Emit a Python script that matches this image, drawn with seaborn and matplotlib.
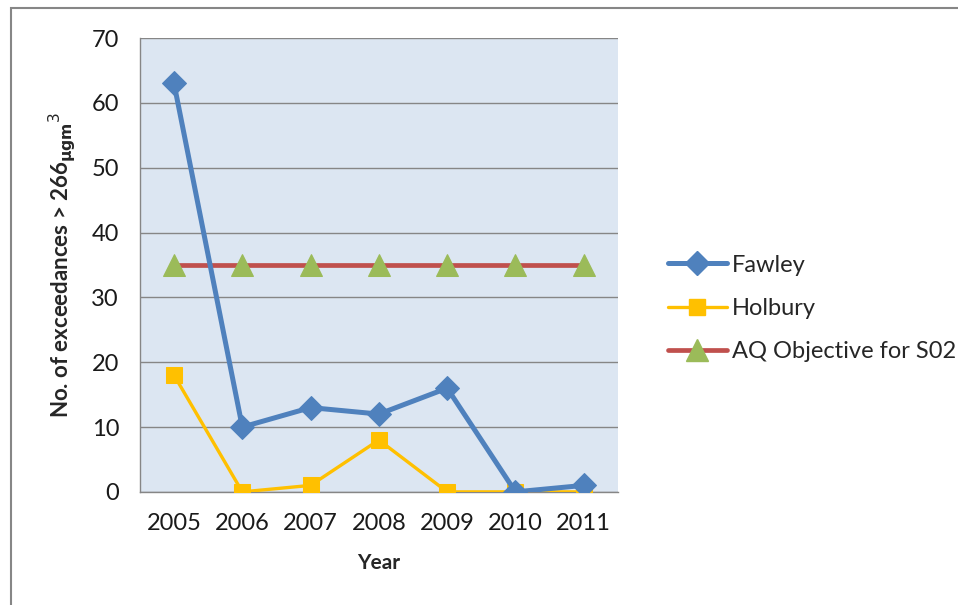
import numpy as np
import pandas as pd
import seaborn as sns
import matplotlib.pyplot as plt
from matplotlib.lines import Line2D
from matplotlib.patches import Rectangle

years = ["2005", "2006", "2007", "2008", "2009", "2010", "2011"]
fawley = [63, 10, 13, 12, 16, 0, 1]
holbury = [18, 0, 1, 8, 0, 0, 0]
aq_objective = [35, 35, 35, 35, 35, 35, 35]
series_names = ["Fawley", "Holbury", "AQ Objective for S02"]

sns.set_style("white")
plt.rcParams['font.family'] = ['Lato', 'DejaVu Sans']

df = pd.DataFrame({
    "Year": years * 3,
    "value": fawley + holbury + aq_objective,
    "series": [series_names[0]] * 7 + [series_names[1]] * 7 + [series_names[2]] * 7,
})

fig = plt.figure(figsize=(9.58, 6.05), dpi=100)
ax = fig.add_axes([0.146, 0.187, 0.499, 0.75])
ax.set_facecolor("#dce6f2")

# AQ objective first so the others draw on top
sns.lineplot(data=df[df.series == series_names[2]], x="Year", y="value", ax=ax,
             color="#c0504d", linewidth=3.4, marker="^", markersize=16,
             markerfacecolor="#9bbb59", markeredgecolor="#9bbb59", legend=False, zorder=2)
sns.lineplot(data=df[df.series == series_names[1]], x="Year", y="value", ax=ax,
             color="#ffc000", linewidth=2.4, marker="s", markersize=12,
             markeredgecolor="#ffc000", legend=False, zorder=3)
sns.lineplot(data=df[df.series == series_names[0]], x="Year", y="value", ax=ax,
             color="#4f81bd", linewidth=3.6, marker="D", markersize=12.5,
             markeredgecolor="#4f81bd", legend=False, zorder=4)

ax.set_xlim(-0.5, 6.5)
ax.set_ylim(0, 70)
ax.set_yticks(range(0, 71, 10))
ax.yaxis.grid(True, color="#868686", linewidth=1)
ax.set_axisbelow(True)
ax.set_xticks(range(7))
ax.set_xticklabels(years)
ax.set_xticks(np.arange(-0.5, 7, 1), minor=True)
ax.tick_params(axis="x", which="major", length=0, pad=15, labelsize=17, colors="#1a1a1a")
ax.tick_params(axis="x", which="minor", length=7, width=1, color="#868686", direction="out")
ax.tick_params(axis="y", length=7, width=1, color="#868686", direction="out", labelsize=17, pad=8)
ax.tick_params(axis="y", labelcolor="#1a1a1a")
for side in ["top", "right"]:
    ax.spines[side].set_visible(False)
for side in ["left", "bottom"]:
    ax.spines[side].set_color("#868686")
    ax.spines[side].set_linewidth(1)

ax.set_xlabel("Year", fontsize=15, fontweight="bold", labelpad=14)
ax.set_ylabel(r"No. of exceedances > 266$_{\mathbf{\mu gm}}$$^{3}$", fontsize=16,
              fontweight="bold", labelpad=10)

handles = [
    Line2D([], [], color="#4f81bd", linewidth=3.6, marker="D", markersize=12.5, markeredgecolor="#4f81bd"),
    Line2D([], [], color="#ffc000", linewidth=2.4, marker="s", markersize=12, markeredgecolor="#ffc000"),
    Line2D([], [], color="#c0504d", linewidth=3.4, marker="^", markersize=16,
           markerfacecolor="#9bbb59", markeredgecolor="#9bbb59"),
]
fig.legend(handles, series_names, loc="center left", bbox_to_anchor=(0.675, 0.49),
           frameon=False, fontsize=17, handlelength=2.5, labelspacing=0.95, handletextpad=0.2)

fig.patches.append(Rectangle((0.011, -0.01), 1.0, 0.997, transform=fig.transFigure,
                             fill=False, edgecolor="#868686", linewidth=1.5))

fig.savefig("out.png", dpi=100)
